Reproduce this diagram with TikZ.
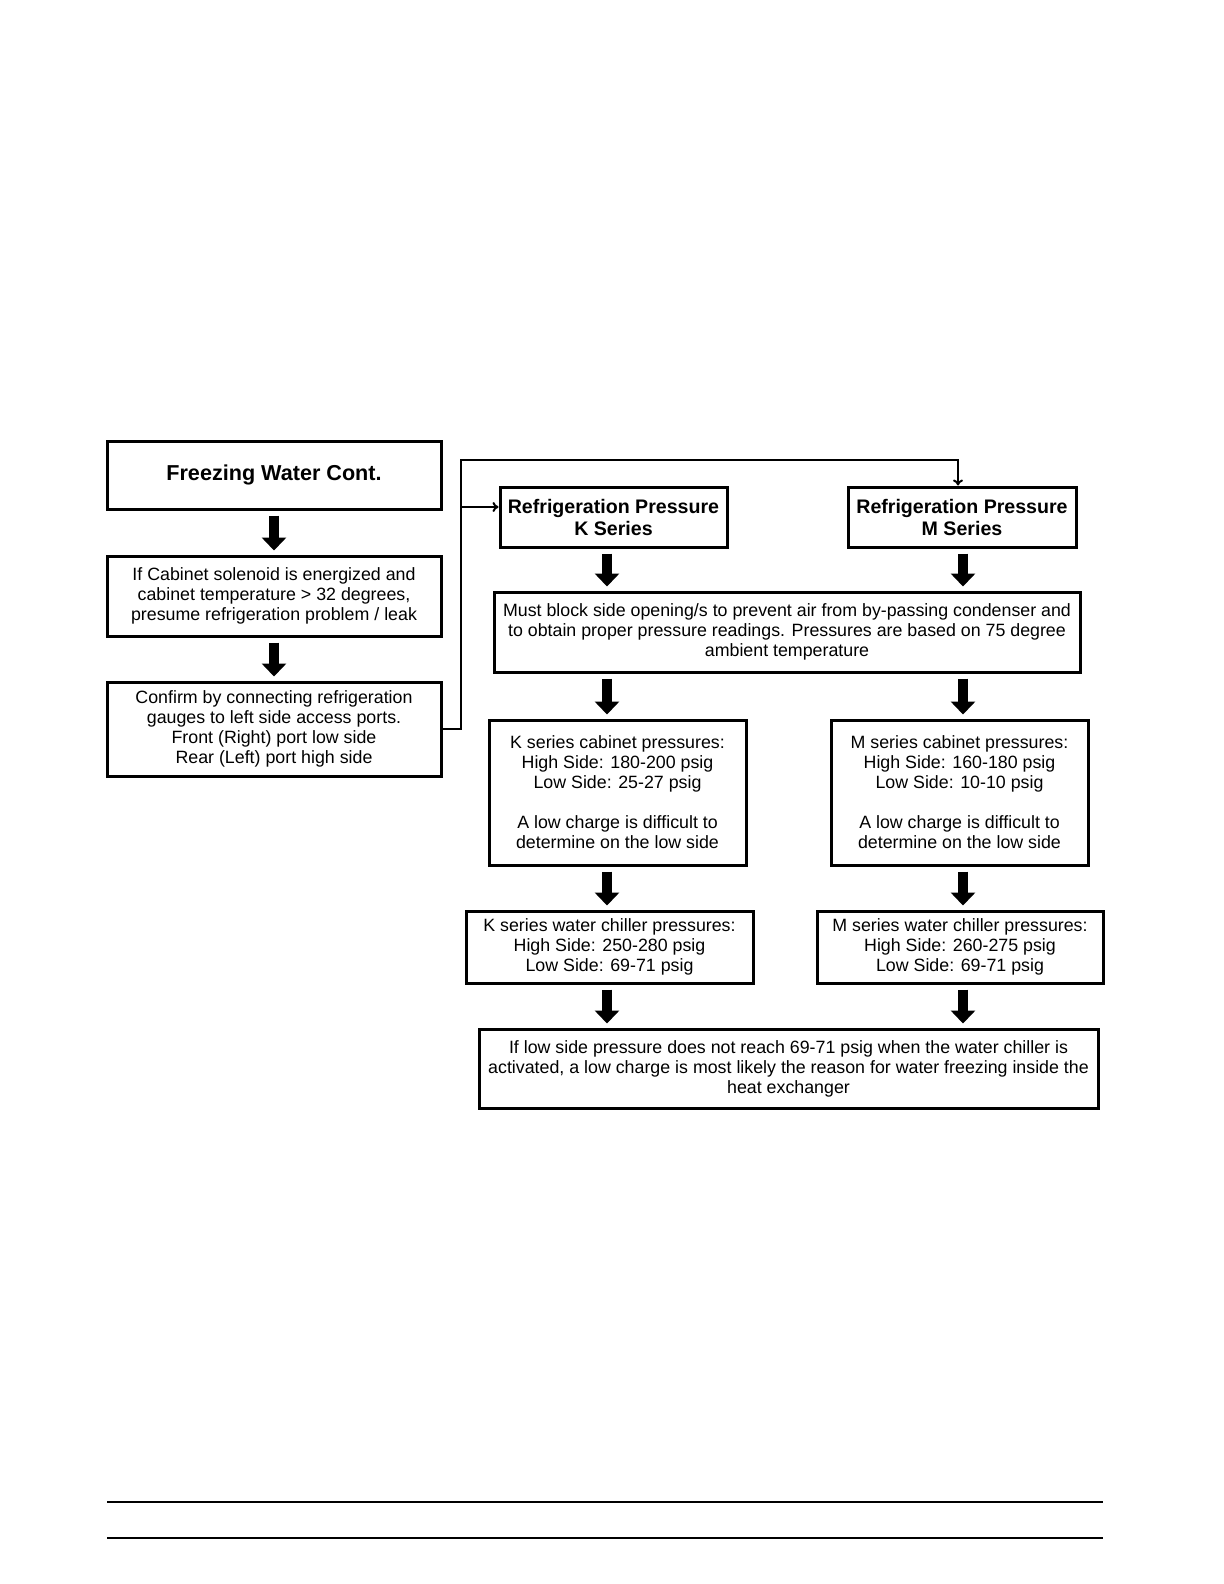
\documentclass[tikz,border=0pt]{standalone}
\usepackage{fontspec}
\setmainfont{Liberation Sans}
\usetikzlibrary{arrows.meta}

\begin{document}
\begin{tikzpicture}[x=0.5pt,y=-0.5pt,
  box/.style={draw,line width=1.5pt,align=center,inner sep=0pt,font=\fontsize{8.9}{10}\selectfont},
  head/.style={box,font=\fontsize{9.8}{11}\selectfont\bfseries},
  fat/.style={draw,line width=5pt,-{Triangle[width=12pt,length=6.5pt]},shorten <=2.5pt,shorten >=2pt},
  thinline/.style={draw,line width=1pt}]
\useasboundingbox (0,0) rectangle (1224,1584);
% left column
\node[box,font=\fontsize{10.8}{12}\selectfont\bfseries,minimum width=167pt,minimum height=34pt] (fw) at (274,475) {Freezing Water Cont.};
\node[box,minimum width=167pt,minimum height=40pt] (sol) at (274,596) {If Cabinet solenoid is energized and\\cabinet temperature > 32 degrees,\\presume refrigeration problem / leak};
\node[box,minimum width=167pt,minimum height=47pt] (conf) at (274,729) {Confirm by connecting refrigeration\\gauges to left side access ports.\\Front (Right) port low side\\Rear (Left) port high side};
% right part
\node[head,minimum width=113.5pt,minimum height=30pt] (kp) at (613.5,517) {Refrigeration Pressure\\K Series};
\node[head,minimum width=114pt,minimum height=30pt] (mp) at (962,517) {Refrigeration Pressure\\M Series};
\node[box,minimum width=293pt,minimum height=40pt] (must) at (787,632) {Must block side opening/s to prevent air from by-passing condenser and\\to obtain proper pressure readings. Pressures are based on 75 degree\\ambient temperature};
\node[box,minimum width=128.5pt,minimum height=72.5pt] (kc) at (617.5,792.5) {K series cabinet pressures:\\High Side: 180-200 psig\\Low Side: 25-27 psig\\[10pt]A low charge is difficult to\\determine on the low side};
\node[box,minimum width=128.5pt,minimum height=72.5pt] (mc) at (959.5,792.5) {M series cabinet pressures:\\High Side: 160-180 psig\\Low Side: 10-10 psig\\[10pt]A low charge is difficult to\\determine on the low side};
\node[box,minimum width=143.5pt,minimum height=36pt] (kw) at (609.5,947) {K series water chiller pressures:\\High Side: 250-280 psig\\Low Side: 69-71 psig};
\node[box,minimum width=143pt,minimum height=36pt] (mw) at (960,947) {M series water chiller pressures:\\High Side: 260-275 psig\\Low Side: 69-71 psig};
\node[box,minimum width=309.5pt,minimum height=39.5pt] (fin) at (788.5,1068.5) {If low side pressure does not reach 69-71 psig when the water chiller is\\activated, a low charge is most likely the reason for water freezing inside the\\heat exchanger};
% arrow columns
\coordinate (ak) at (607,0);
\coordinate (am) at (963,0);
\coordinate (haara) at (461,507);
\coordinate (ylos) at (461,460);
% block arrows
\path[fat] (fw) -- (sol);
\path[fat] (sol) -- (conf);
\path[fat] (ak |- kp.south) -- (ak |- must.north);
\path[fat] (am |- mp.south) -- (am |- must.north);
\path[fat] (ak |- must.south) -- (ak |- kc.north);
\path[fat] (am |- must.south) -- (am |- mc.north);
\path[fat] (ak |- kc.south) -- (ak |- kw.north);
\path[fat] (am |- mc.south) -- (am |- mw.north);
\path[fat] (ak |- kw.south) -- (ak |- fin.north);
\path[fat] (am |- mw.south) -- (am |- fin.north);
% connector to both series
\path[thinline,-{To[length=3pt,width=5pt]}] (conf.east) -| (ylos) -| ([xshift=-2pt]mp.north);
\path[thinline,-{To[length=3pt,width=5pt]}] (haara) -- (haara -| kp.west);
% footer rules
\path[draw,line width=0.8pt] (107,1502) -- (1103,1502);
\path[draw,line width=0.8pt] (107,1538) -- (1103,1538);
\end{tikzpicture}
\end{document}
